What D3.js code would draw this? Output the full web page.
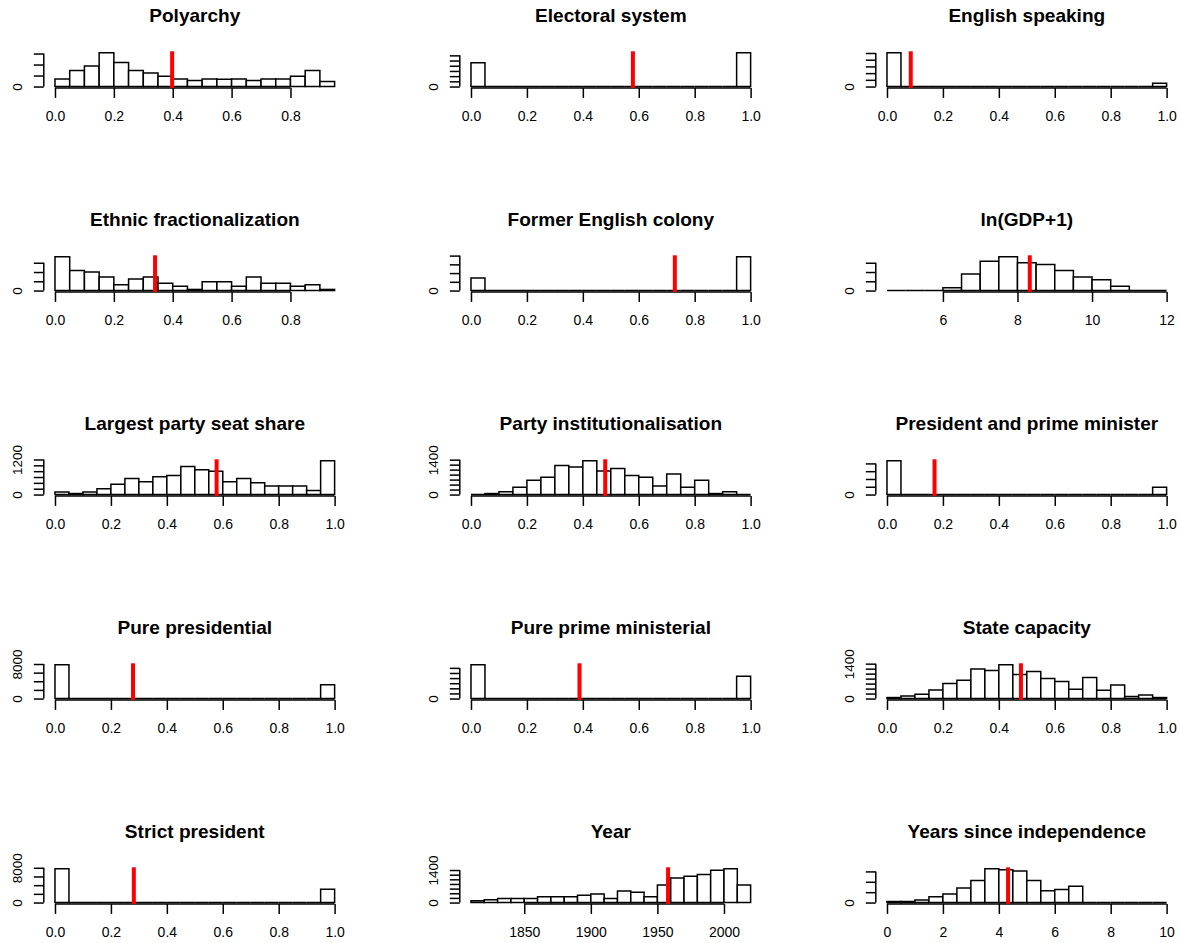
<!DOCTYPE html>
<html><head><meta charset="utf-8">
<script src="https://cdn.jsdelivr.net/npm/d3@7"></script>
<style>body{margin:0;background:#fff}svg{display:block}</style>
</head><body>
<svg id="chart" width="1180" height="943"></svg>
<script>
// ---------- DATA ----------
const titles = ["Polyarchy","Electoral system","English speaking",
  "Ethnic fractionalization","Former English colony","ln(GDP+1)",
  "Largest party seat share","Party institutionalisation","President and prime minister",
  "Pure presidential","Pure prime ministerial","State capacity",
  "Strict president","Year","Years since independence"];

const breakStart = [0,0,0, 0,0,4.5, 0,0,0, 0,0,0, 0,1810,0];
const binWidth   = [0.05,0.05,0.05, 0.05,0.05,0.5, 0.05,0.05,0.05, 0.05,0.05,0.05, 0.05,10,0.5];

const polyarchyCounts = [340,730,930,1540,1090,730,610,470,340,280,340,330,340,280,340,340,470,730,230];
const electoralCounts = [4580,0,0,0,0,0,0,0,0,0,0,0,0,0,0,0,0,0,0,6520];
const englishCounts   = [10100,0,0,0,0,0,0,0,0,0,0,0,0,0,0,0,0,0,0,950];
const ethnicCounts    = [1830,1080,1000,730,310,630,730,400,230,60,480,480,230,730,400,400,230,310,60];
const colonyCounts    = [2860,0,0,0,0,0,0,0,0,0,0,0,0,0,0,0,0,0,0,7760];
const gdpCounts       = [0,0,0,150,900,1580,1830,1500,1400,1080,730,580,230,0,0];
const seatShareCounts = [90,35,90,200,350,550,440,610,650,960,850,800,440,550,400,290,290,290,140,1160];
const partyInstCounts = [0,40,110,290,570,690,1170,1110,1360,940,1050,760,690,340,820,290,570,40,110,0];
const presPmCounts    = [8710,0,0,0,0,0,0,0,0,0,0,0,0,0,0,0,0,0,0,1870];
const purePresCounts  = [7850,0,0,0,0,0,0,0,0,0,0,0,0,0,0,0,0,0,0,3200];
const purePmCounts    = [6630,0,0,0,0,0,0,0,0,0,0,0,0,0,0,0,0,0,0,4370];
const stateCapCounts  = [40,106,172,343,607,739,1188,1122,1360,964,1082,805,686,370,845,330,541,79,145,40];
const strictPresCounts= [7800,0,0,0,0,0,0,0,0,0,0,0,0,0,0,0,0,0,0,3050];
const yearCounts      = [74,118,177,177,177,251,251,251,310,368,177,501,442,251,752,1061,1135,1209,1386,1459,752];
const indepCounts     = [50,50,117,283,417,700,1067,1633,1583,1517,1067,567,633,783,0,0,0,0,0,0];

const countsList = [polyarchyCounts,electoralCounts,englishCounts,ethnicCounts,colonyCounts,gdpCounts,
  seatShareCounts,partyInstCounts,presPmCounts,purePresCounts,purePmCounts,stateCapCounts,
  strictPresCounts,yearCounts,indepCounts];

const meanValues = [0.398,0.579,0.085, 0.340,0.729,8.33, 0.578,0.480,0.170, 0.279,0.388,0.479, 0.282,1958,4.33];

const unitTicks = [0,0.2,0.4,0.6,0.8,1.0];
const shortTicks = [0,0.2,0.4,0.6,0.8];
const xTickValues = [shortTicks,unitTicks,unitTicks, shortTicks,unitTicks,[6,8,10,12],
  unitTicks,unitTicks,unitTicks, unitTicks,unitTicks,unitTicks,
  unitTicks,[1850,1900,1950,2000],[0,2,4,6,8,10]];
const xTickFormats = [".1f",".1f",".1f", ".1f",".1f","d", ".1f",".1f",".1f", ".1f",".1f",".1f", ".1f","d","d"];

const yTickSteps = [500,1000,2000, 500,2000,500, 200,200,2000, 2000,1000,200, 2000,200,500];
const yLabelsShown = [[0],[0],[0], [0],[0],[0], [0,1200],[0,1400],[0], [0,8000],[0],[0,1400], [0,8000],[0,1400],[0]];

// ---------- LAYOUT ----------
const plotLeft0 = 43.8, colStep = 416, plotW = 302;
const plotTop0 = 51.3, rowStep = 204, plotH = 36.6;
const FONT = "'Liberation Sans', Arial, Helvetica, sans-serif";
const SW = 1.5;

const svg = d3.select("#chart");
svg.append("rect").attr("width",1180).attr("height",943).attr("fill","#fff");

titles.forEach((title, i) => {
  const r = Math.floor(i/3), c = i % 3;
  const left = plotLeft0 + c*colStep, top = plotTop0 + r*rowStep;
  const counts = countsList[i];
  const n = counts.length;
  const edges = d3.range(n+1).map(k => breakStart[i] + k*binWidth[i]);
  const xmin = edges[0], xmax = edges[n], xr = xmax - xmin;
  const x = d3.scaleLinear().domain([xmin - 0.04*xr, xmax + 0.04*xr]).range([left, left+plotW]);
  const ymax = d3.max(counts);
  const y = d3.scaleLinear().domain([-0.04*ymax, 1.04*ymax]).range([top+plotH, top]);
  const g = svg.append("g");

  // bars
  g.selectAll("path.bar").data(counts).enter().append("path")
    .attr("class","bar")
    .attr("d",(d,k) => {
      const x0 = x(edges[k]), x1 = x(edges[k+1]), y0 = y(0), y1 = y(d);
      return `M${x0},${y0}V${y1}H${x1}V${y0}Z`;
    })
    .attr("fill","#fff").attr("stroke","#000").attr("stroke-width",SW);

  // x axis
  const xt = xTickValues[i];
  const xAxis = d3.axisBottom(x).tickValues(xt).tickSize(10).tickSizeOuter(0)
    .tickFormat(d3.format(xTickFormats[i]));
  const gx = g.append("g").attr("transform",`translate(0,${top+plotH})`).call(xAxis);
  gx.select(".domain").attr("d",`M${x(xt[0])},0H${x(xt[xt.length-1])}`);
  gx.selectAll("line,path").attr("stroke","#000").attr("stroke-width",SW);
  gx.selectAll("text").attr("y",33.6).attr("dy",0)
    .attr("font-family",FONT).attr("font-size",14).attr("fill","#000");

  // y axis
  const step = yTickSteps[i];
  const yt = d3.range(0, 1.04*ymax + 1e-6, step);
  const shown = yLabelsShown[i];
  const yAxis = d3.axisLeft(y).tickValues(yt).tickSize(10).tickSizeOuter(0)
    .tickFormat(d => shown.includes(d) ? String(d) : "");
  const gy = g.append("g").attr("transform",`translate(${left},0)`).call(yAxis);
  gy.select(".domain").attr("d",`M0,${y(yt[0])}V${y(yt[yt.length-1])}`);
  gy.selectAll("line,path").attr("stroke","#000").attr("stroke-width",SW);
  gy.selectAll("text").attr("x",0).attr("y",0).attr("dy",0)
    .attr("text-anchor","middle")
    .attr("transform","translate(-22,0) rotate(-90)")
    .attr("font-family",FONT).attr("font-size",13.5).attr("fill","#000");

  // mean line
  g.append("line")
    .attr("x1",x(meanValues[i])).attr("x2",x(meanValues[i]))
    .attr("y1",top).attr("y2",top+plotH)
    .attr("stroke","#ff0000").attr("stroke-width",4);

  // title
  g.append("text")
    .attr("transform",`translate(${left+plotW/2},${top-29}) scale(1.09,1)`)
    .attr("text-anchor","middle")
    .attr("font-family",FONT).attr("font-weight","bold").attr("font-size",17.5)
    .attr("fill","#000").text(title);
});
</script>
</body></html>
